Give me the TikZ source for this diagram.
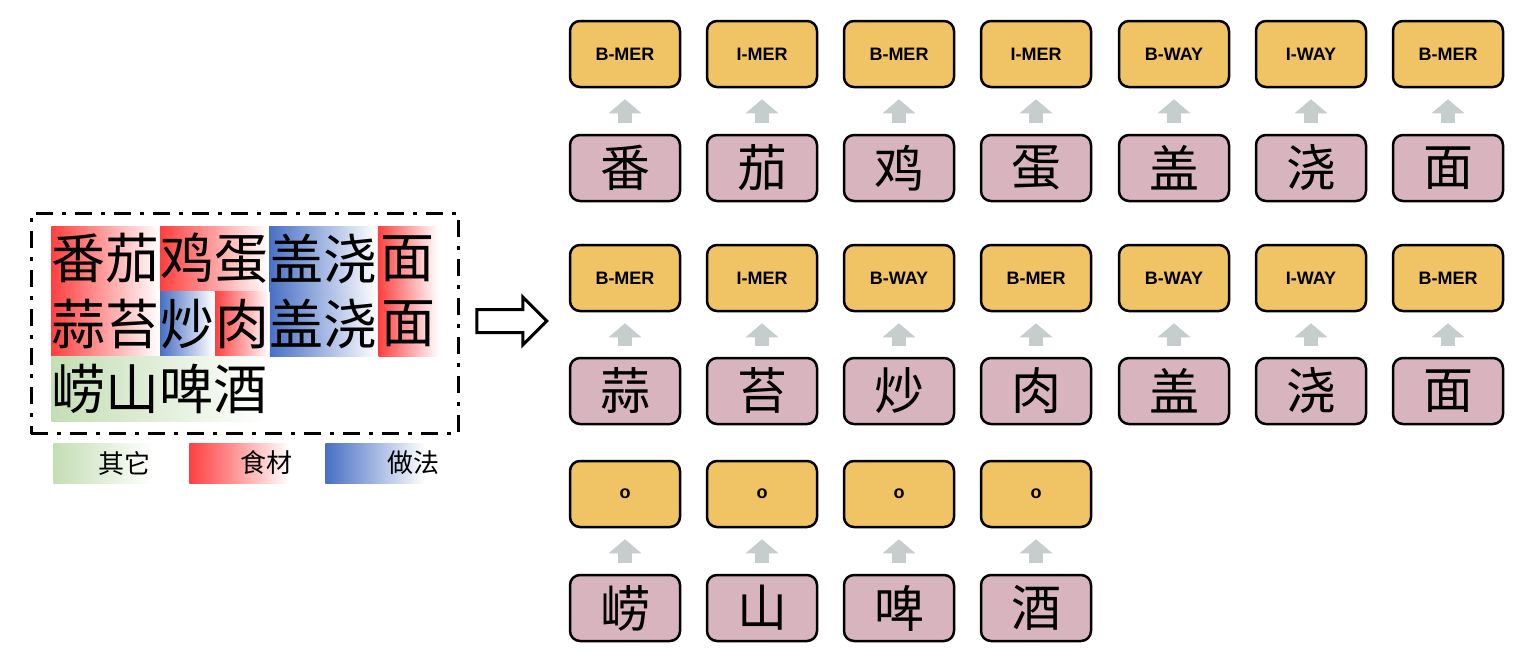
\documentclass[tikz,border=0pt]{standalone}
\usepackage{fontspec}
\newfontfamily\cjk{Noto Sans CJK SC}
\newfontfamily\tagfont{Liberation Sans}
\usetikzlibrary{fit,positioning,shapes.arrows,arrows.meta}
\definecolor{colorTAG}{RGB}{240,195,100}
\definecolor{colorCHR}{RGB}{216,181,190}
\definecolor{colorUP}{RGB}{197,205,205}
\definecolor{colorFOOD}{RGB}{255,64,64}
\definecolor{colorWAY}{RGB}{72,112,196}
\definecolor{colorOTH}{RGB}{196,222,180}
\tikzset{
   tag/.style={draw,line width=1.25pt,rounded corners=5pt,fill=colorTAG,minimum width=55pt,minimum height=33pt,font=\tagfont\bfseries\fontsize{9}{9}\selectfont},
   chr/.style={draw,line width=1.25pt,rounded corners=5pt,fill=colorCHR,minimum width=55pt,minimum height=33pt,inner sep=0pt,font=\cjk\fontsize{25}{25}\selectfont},
   up/.style={-{Triangle[width=16pt,length=7pt]},line width=7pt,color=colorUP,shorten >=5.5pt,shorten <=5.5pt},
   seg/.style={inner sep=0pt,minimum height=32.5pt,anchor=west,font=\cjk\fontsize{27}{27}\selectfont},
   food/.style={seg,left color=colorFOOD,right color=white},
   way/.style={seg,left color=colorWAY,right color=white},
   oth/.style={seg,left color=colorOTH,right color=white},
   leg/.style={inner sep=0pt,minimum width=50pt,minimum height=20pt,anchor=west},
   legtext/.style={font=\cjk\fontsize{13}{13}\selectfont},
   frame/.style={draw,line width=1.5pt,dash pattern=on 8.5pt off 4.5pt on 2pt off 4.5pt,inner xsep=10pt,inner ysep=6pt},
   bigarrow/.style={single arrow,draw,line width=1.5pt,inner xsep=0pt,inner ysep=5pt,minimum height=35pt,single arrow head extend=6.25pt},
}
\begin{document}
\begin{tikzpicture}[x=0.5pt,y=-0.5pt]
      \useasboundingbox (0,0) rectangle (1538,666);
      % sentences with entity spans
      \node[food] (s11) at (51,258.5) {番茄};
      \node[food,right=0pt of s11] (s12) {鸡蛋};
      \node[way,right=0pt of s12] (s13) {盖浇};
      \node[food,right=0pt of s13,minimum width=30pt] (s14) {面};
      \node[food] (s21) at (51,324) {蒜苔};
      \node[way,right=0pt of s21] (s22) {炒};
      \node[food,right=0pt of s22] (s23) {肉};
      \node[way,right=0pt of s23] (s24) {盖浇};
      \node[food,right=0pt of s24,minimum width=30pt] (s25) {面};
      \node[oth] (s31) at (51,389) {崂山啤酒};
      \node[frame,fit=(s11)(s14)(s31)] (box) {};
      % legend
      \node[leg,left color=colorOTH,right color=white] (lo) at (53,463) {};
      \node[legtext] (lot) at (124,463) {其它};
      \node[leg,left color=colorFOOD,right color=white] (lf) at (189,463) {};
      \node[legtext] (lft) at (266,463) {食材};
      \node[leg,left color=colorWAY,right color=white] (lw) at (325,463) {};
      \node[legtext] (lwt) at (413,463) {做法};
      \node[bigarrow] (go) at (506,321) {};
      % first sentence
      \node[tag] (t11) at (625,54) {B-MER};
      \node[tag] (t12) at (762,54) {I-MER};
      \node[tag] (t13) at (899,54) {B-MER};
      \node[tag] (t14) at (1036,54) {I-MER};
      \node[tag] (t15) at (1174,54) {B-WAY};
      \node[tag] (t16) at (1311,54) {I-WAY};
      \node[tag] (t17) at (1448,54) {B-MER};
      \node[chr] (c11) at (625,168) {番};
      \node[chr] (c12) at (762,168) {茄};
      \node[chr] (c13) at (899,168) {鸡};
      \node[chr] (c14) at (1036,168) {蛋};
      \node[chr] (c15) at (1174,168) {盖};
      \node[chr] (c16) at (1311,168) {浇};
      \node[chr] (c17) at (1448,168) {面};
      \draw[up] (c11) -- (t11);
      \draw[up] (c12) -- (t12);
      \draw[up] (c13) -- (t13);
      \draw[up] (c14) -- (t14);
      \draw[up] (c15) -- (t15);
      \draw[up] (c16) -- (t16);
      \draw[up] (c17) -- (t17);
      % second sentence
      \node[tag] (t21) at (625,278) {B-MER};
      \node[tag] (t22) at (762,278) {I-MER};
      \node[tag] (t23) at (899,278) {B-WAY};
      \node[tag] (t24) at (1036,278) {B-MER};
      \node[tag] (t25) at (1174,278) {B-WAY};
      \node[tag] (t26) at (1311,278) {I-WAY};
      \node[tag] (t27) at (1448,278) {B-MER};
      \node[chr] (c21) at (625,391) {蒜};
      \node[chr] (c22) at (762,391) {苔};
      \node[chr] (c23) at (899,391) {炒};
      \node[chr] (c24) at (1036,391) {肉};
      \node[chr] (c25) at (1174,391) {盖};
      \node[chr] (c26) at (1311,391) {浇};
      \node[chr] (c27) at (1448,391) {面};
      \draw[up] (c21) -- (t21);
      \draw[up] (c22) -- (t22);
      \draw[up] (c23) -- (t23);
      \draw[up] (c24) -- (t24);
      \draw[up] (c25) -- (t25);
      \draw[up] (c26) -- (t26);
      \draw[up] (c27) -- (t27);
      % third sentence
      \node[tag] (t31) at (625,494) {o};
      \node[tag] (t32) at (762,494) {o};
      \node[tag] (t33) at (899,494) {o};
      \node[tag] (t34) at (1036,494) {o};
      \node[chr] (c31) at (625,608) {崂};
      \node[chr] (c32) at (762,608) {山};
      \node[chr] (c33) at (899,608) {啤};
      \node[chr] (c34) at (1036,608) {酒};
      \draw[up] (c31) -- (t31);
      \draw[up] (c32) -- (t32);
      \draw[up] (c33) -- (t33);
      \draw[up] (c34) -- (t34);
    \end{tikzpicture}
\end{document}
